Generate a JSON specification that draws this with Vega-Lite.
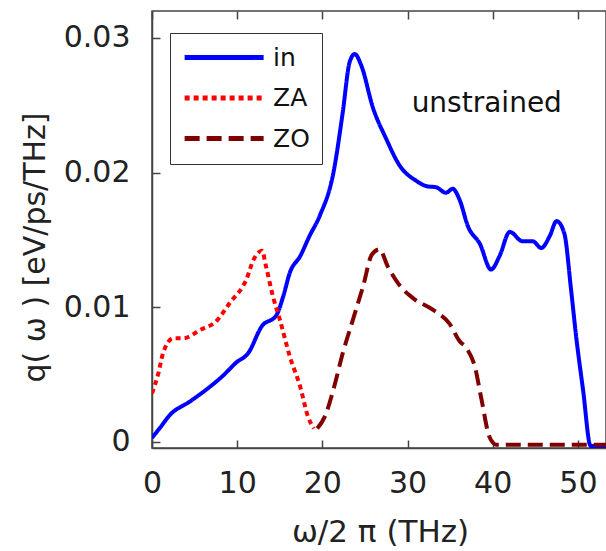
{
  "$schema": "https://vega.github.io/schema/vega-lite/v6.json",
  "width": 454,
  "height": 437,
  "autosize": {"type": "none"},
  "padding": {"left": 152, "top": 11, "right": 0, "bottom": 103},
  "background": "white",
  "config": {
    "view": {"stroke": "#444", "strokeWidth": 1.5},
    "font": "DejaVu Sans",
    "axis": {
      "domainColor": "#444", "domainWidth": 1.5,
      "tickColor": "#444", "tickWidth": 1.5, "tickSize": -8,
      "grid": false, "labelFlush": false,
      "labelFont": "DejaVu Sans", "labelFontSize": 30, "labelColor": "#222",
      "titleFont": "DejaVu Sans", "titleFontSize": 30, "titleColor": "#222", "titleFontWeight": "normal"
    },
    "legend": {
      "orient": "none", "legendX": 18, "legendY": 22,
      "strokeColor": "#333", "fillColor": "white", "padding": 12,
      "symbolType": "M-1,0H7", "symbolSize": 390, "symbolStrokeWidth": 5,
      "labelFont": "DejaVu Sans", "labelFontSize": 25, "labelOffset": 66, "labelColor": "#111",
      "rowPadding": 14.5, "title": null
    }
  },
  "datasets": {
    "curves": [
      {"series": "in", "w": 0, "q": 0.0003},
      {"series": "in", "w": 1.0, "q": 0.0011},
      {"series": "in", "w": 2.1, "q": 0.0020},
      {"series": "in", "w": 4.45, "q": 0.0030},
      {"series": "in", "w": 6.8, "q": 0.0041},
      {"series": "in", "w": 8.3, "q": 0.0049},
      {"series": "in", "w": 9.9, "q": 0.0059},
      {"series": "in", "w": 11.3, "q": 0.0066},
      {"series": "in", "w": 12.9, "q": 0.0086},
      {"series": "in", "w": 14.6, "q": 0.0094},
      {"series": "in", "w": 15.4, "q": 0.0108},
      {"series": "in", "w": 16.2, "q": 0.0126},
      {"series": "in", "w": 17.4, "q": 0.0138},
      {"series": "in", "w": 18.5, "q": 0.0153},
      {"series": "in", "w": 19.7, "q": 0.0168},
      {"series": "in", "w": 21.3, "q": 0.0200},
      {"series": "in", "w": 22.4, "q": 0.0245},
      {"series": "in", "w": 23.2, "q": 0.0282},
      {"series": "in", "w": 23.8, "q": 0.0288},
      {"series": "in", "w": 24.6, "q": 0.0279},
      {"series": "in", "w": 25.9, "q": 0.0249},
      {"series": "in", "w": 27.5, "q": 0.0225},
      {"series": "in", "w": 29.1, "q": 0.0205},
      {"series": "in", "w": 31.0, "q": 0.0194},
      {"series": "in", "w": 32.2, "q": 0.0190},
      {"series": "in", "w": 33.4, "q": 0.0189},
      {"series": "in", "w": 34.5, "q": 0.0185},
      {"series": "in", "w": 35.3, "q": 0.0188},
      {"series": "in", "w": 36.1, "q": 0.0180},
      {"series": "in", "w": 37.1, "q": 0.0160},
      {"series": "in", "w": 38.5, "q": 0.0147},
      {"series": "in", "w": 39.8, "q": 0.0128},
      {"series": "in", "w": 40.8, "q": 0.0138},
      {"series": "in", "w": 42.0, "q": 0.0156},
      {"series": "in", "w": 43.5, "q": 0.0149},
      {"series": "in", "w": 44.7, "q": 0.0149},
      {"series": "in", "w": 45.7, "q": 0.0144},
      {"series": "in", "w": 46.7, "q": 0.0153},
      {"series": "in", "w": 47.5, "q": 0.0164},
      {"series": "in", "w": 48.4, "q": 0.0155},
      {"series": "in", "w": 49.2, "q": 0.0113},
      {"series": "in", "w": 49.8, "q": 0.0078},
      {"series": "in", "w": 50.6, "q": 0.0039},
      {"series": "in", "w": 51.5, "q": -0.0003},
      {"series": "in", "w": 53.3, "q": -0.0003},
      {"series": "ZA", "w": 0, "q": 0.0036},
      {"series": "ZA", "w": 0.75, "q": 0.0051},
      {"series": "ZA", "w": 1.3, "q": 0.0066},
      {"series": "ZA", "w": 2.5, "q": 0.0077},
      {"series": "ZA", "w": 3.7, "q": 0.0077},
      {"series": "ZA", "w": 5.6, "q": 0.0083},
      {"series": "ZA", "w": 7.6, "q": 0.0090},
      {"series": "ZA", "w": 9.1, "q": 0.0103},
      {"series": "ZA", "w": 11.1, "q": 0.0121},
      {"series": "ZA", "w": 11.9, "q": 0.0135},
      {"series": "ZA", "w": 12.9, "q": 0.0142},
      {"series": "ZA", "w": 13.4, "q": 0.0130},
      {"series": "ZA", "w": 14.2, "q": 0.0108},
      {"series": "ZA", "w": 15.0, "q": 0.0091},
      {"series": "ZA", "w": 16.2, "q": 0.0063},
      {"series": "ZA", "w": 17.4, "q": 0.0041},
      {"series": "ZA", "w": 18.3, "q": 0.0019},
      {"series": "ZA", "w": 19.0, "q": 0.0010},
      {"series": "ZO", "w": 19.4, "q": 0.0010},
      {"series": "ZO", "w": 20.3, "q": 0.0019},
      {"series": "ZO", "w": 21.3, "q": 0.0039},
      {"series": "ZO", "w": 22.4, "q": 0.0066},
      {"series": "ZO", "w": 23.6, "q": 0.0091},
      {"series": "ZO", "w": 24.8, "q": 0.0116},
      {"series": "ZO", "w": 25.8, "q": 0.0139},
      {"series": "ZO", "w": 26.7, "q": 0.0143},
      {"series": "ZO", "w": 27.7, "q": 0.0130},
      {"series": "ZO", "w": 29.1, "q": 0.0116},
      {"series": "ZO", "w": 30.6, "q": 0.0107},
      {"series": "ZO", "w": 33.0, "q": 0.0098},
      {"series": "ZO", "w": 34.9, "q": 0.0088},
      {"series": "ZO", "w": 36.1, "q": 0.0075},
      {"series": "ZO", "w": 37.0, "q": 0.0069},
      {"series": "ZO", "w": 37.9, "q": 0.0056},
      {"series": "ZO", "w": 38.7, "q": 0.0031},
      {"series": "ZO", "w": 39.6, "q": 0.0004},
      {"series": "ZO", "w": 40.4, "q": -0.0002},
      {"series": "ZO", "w": 53.3, "q": -0.0002}
    ],
    "note": [{"label": "unstrained"}]
  },
  "resolve": {"axis": {"x": "independent", "y": "independent"}},
  "layer": [
    {
      "data": {"name": "curves"},
      "mark": {"type": "line", "strokeWidth": 4, "interpolate": "monotone", "clip": true},
      "encoding": {
        "x": {
          "field": "w", "type": "quantitative",
          "scale": {"domain": [0, 53.3], "nice": false, "zero": false},
          "axis": {
            "orient": "bottom", "values": [0, 10, 20, 30, 40, 50],
            "title": "ω/2 π (THz)", "labelPadding": 28, "titleFontSize": 31,
            "titleX": 228, "titleY": 84, "titleAlign": "center", "titleBaseline": "middle"
          }
        },
        "y": {
          "field": "q", "type": "quantitative",
          "scale": {"domain": [-0.00045, 0.032], "nice": false, "zero": false},
          "axis": {
            "orient": "left", "values": [0, 0.01, 0.02, 0.03],
            "labelExpr": "datum.value == 0 ? '0' : format(datum.value, '.2f')",
            "labelPadding": 30,
            "title": "q( ω ) [eV/ps/THz]",
            "titleAngle": -90, "titleX": -117, "titleY": 236,
            "titleAlign": "center", "titleBaseline": "middle"
          }
        },
        "color": {
          "field": "series", "type": "nominal",
          "scale": {"domain": ["in", "ZA", "ZO"], "range": ["#0000ff", "#ff0000", "#800000"]}
        },
        "strokeDash": {
          "field": "series", "type": "nominal",
          "scale": {"domain": ["in", "ZA", "ZO"], "range": [[1, 0], [5, 4], [15, 7]]}
        }
      }
    },
    {
      "data": {"name": "note"},
      "mark": {"type": "text", "font": "DejaVu Sans", "fontSize": 28, "color": "#111", "align": "center", "baseline": "middle"},
      "encoding": {
        "text": {"field": "label"},
        "x": {
          "datum": 39.3, "type": "quantitative",
          "axis": {"orient": "top", "values": [0, 10, 20, 30, 40, 50], "labels": false, "title": null, "domain": false}
        },
        "y": {"datum": 0.0251, "type": "quantitative", "axis": null}
      }
    }
  ]
}
